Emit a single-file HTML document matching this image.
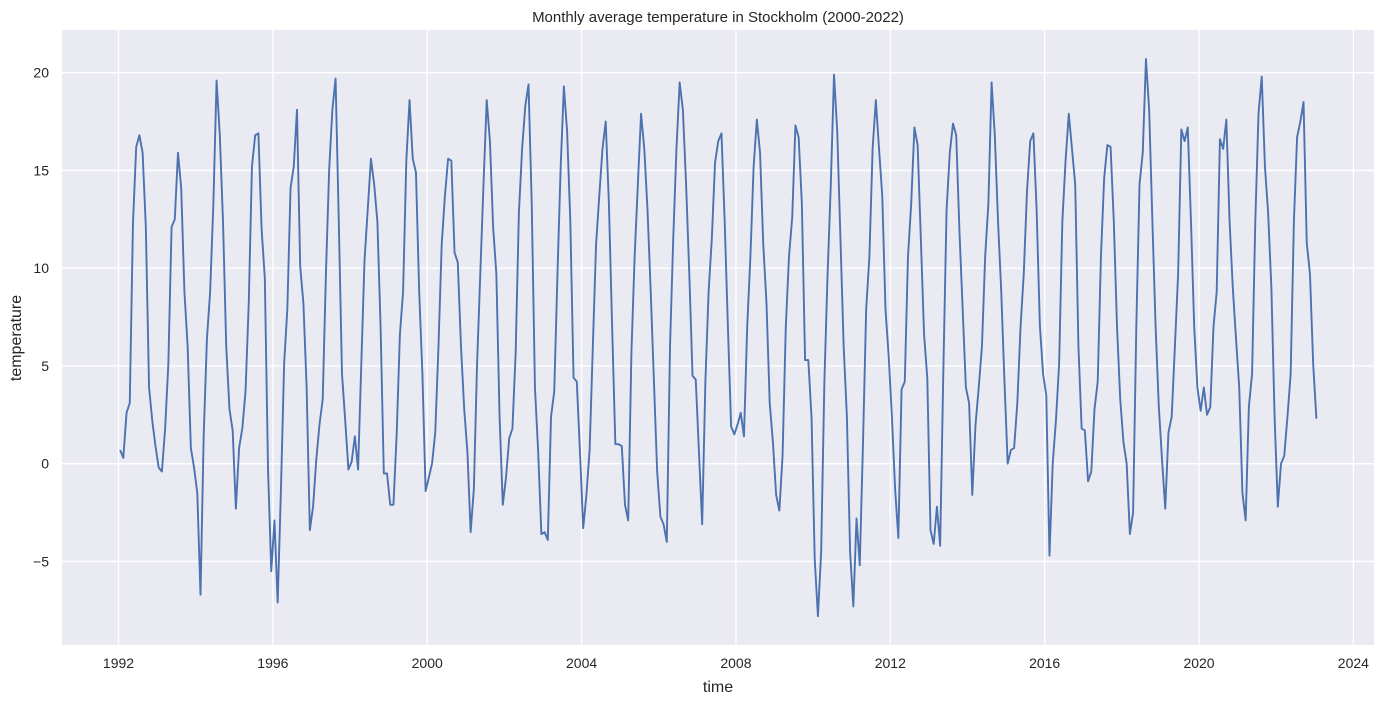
<!DOCTYPE html>
<html><head><meta charset="utf-8"><style>
html,body{margin:0;padding:0;background:#fff;}
svg{display:block;font-family:"Liberation Sans",sans-serif;}
</style></head><body>
<svg id="chart" width="1384" height="704" viewBox="0 0 1384 704" xmlns="http://www.w3.org/2000/svg">
<rect x="62" y="30" width="1312" height="615" fill="#eaeaf2"/>
<g id="grid"></g>
<g id="ticks"></g>
<path id="line" fill="none" stroke="#4c72b0" stroke-width="1.9" stroke-linejoin="round"/>
<text x="718" y="22" text-anchor="middle" font-size="15" fill="#262626">Monthly average temperature in Stockholm (2000-2022)</text>
<text x="718" y="692" text-anchor="middle" font-size="16" fill="#262626">time</text>
<text transform="translate(21,338) rotate(-90)" text-anchor="middle" font-size="16" fill="#262626">temperature</text>
</svg>
<script>
const startYear = 1992;
const temps1992_1999 = [
0.7,0.3,2.6,3.1,12.3,16.2,16.8,15.9,12.1,3.9,2.2,0.9,
-0.2,-0.4,1.8,5.1,12.1,12.5,15.9,14.1,8.8,6.0,0.8,-0.2,
-1.5,-6.7,1.5,6.4,8.8,13.3,19.6,16.8,12.4,6.0,2.8,1.7,
-2.3,0.8,1.8,3.7,8.2,15.2,16.8,16.9,12.0,9.5,-0.3,-5.5,
-2.9,-7.1,-1.4,5.1,7.9,14.1,15.2,18.1,10.1,8.2,3.9,-3.4,
-2.2,0.2,2.0,3.3,9.7,15.0,18.1,19.7,12.4,4.6,2.2,-0.3,
0.1,1.4,-0.3,5.1,10.4,13.0,15.6,14.3,12.4,7.0,-0.5,-0.5,
-2.1,-2.1,1.5,6.6,8.8,15.5,18.6,15.6,14.9,8.8,4.6,-1.4];
const temps2000_2007 = [
-0.7,0.0,1.6,6.0,11.2,13.7,15.6,15.5,10.8,10.3,6.0,2.8,
0.6,-3.5,-1.3,5.1,9.7,14.3,18.6,16.5,12.1,9.7,2.4,-2.1,
-0.7,1.3,1.8,5.7,12.8,16.1,18.3,19.4,13.3,3.9,0.6,-3.6,
-3.5,-3.9,2.4,3.7,9.7,15.2,19.3,17.0,12.4,4.4,4.2,0.6,
-3.3,-1.6,0.7,6.0,11.2,13.7,16.1,17.5,13.3,7.0,1.0,1.0,
0.9,-2.1,-2.9,5.7,10.6,14.3,17.9,16.1,13.0,8.8,4.2,-0.4,
-2.7,-3.1,-4.0,6.0,11.5,16.1,19.5,18.1,14.3,9.7,4.5,4.3,
0.6,-3.1,4.2,8.8,11.5,15.4,16.5,16.9,12.4,7.0,1.9,1.5];
const temps2008_2015 = [
2.0,2.6,1.4,7.0,10.6,15.2,17.6,15.9,11.2,8.2,3.1,1.1,
-1.6,-2.4,0.4,7.0,10.6,12.6,17.3,16.7,13.3,5.3,5.3,2.4,
-4.9,-7.8,-4.5,4.2,9.7,14.3,19.9,17.0,11.5,6.0,2.4,-4.5,
-7.3,-2.8,-5.2,1.0,7.9,10.6,16.1,18.6,16.1,13.7,7.9,5.5,
2.4,-1.3,-3.8,3.8,4.2,10.6,13.3,17.2,16.3,11.5,6.6,4.4,
-3.4,-4.1,-2.2,-4.2,4.8,13.0,15.9,17.4,16.8,11.9,7.9,3.9,
3.1,-1.6,2.0,3.9,6.0,10.6,13.3,19.5,16.8,12.4,8.8,4.2,
0.0,0.7,0.8,3.1,7.0,9.7,13.9,16.5,16.9,13.0,7.1,4.6];
const temps2016_2023 = [
3.5,-4.7,0.0,2.2,5.1,12.4,15.5,17.9,16.1,14.3,6.0,1.8,
1.7,-0.9,-0.4,2.8,4.2,10.6,14.6,16.3,16.2,12.4,7.0,3.3,
1.1,0.0,-3.6,-2.5,7.0,14.3,15.9,20.7,18.1,12.4,7.0,2.9,
0.2,-2.3,1.6,2.4,6.0,9.7,17.1,16.5,17.2,12.4,7.0,3.9,
2.7,3.9,2.5,2.9,7.0,8.8,16.6,16.1,17.6,12.4,9.0,6.4,
3.9,-1.5,-2.9,2.9,4.6,12.4,17.9,19.8,15.2,12.8,9.0,2.4,
-2.2,0.0,0.4,2.4,4.6,12.4,16.7,17.5,18.5,11.3,9.7,5.1,
2.3];
const xTicks = [1992,1996,2000,2004,2008,2012,2016,2020,2024];
const yTicks = [-5,0,5,10,15,20];

const temps = temps1992_1999.concat(temps2000_2007, temps2008_2015, temps2016_2023);
const NS = 'http://www.w3.org/2000/svg';
function xScale(t){ return 118.5 + (t - 1992) * 38.59; }
function yScale(v){ return 463.7 - v * 19.55; }

const grid = document.getElementById('grid');
const ticks = document.getElementById('ticks');
xTicks.forEach(function(t){
  const l = document.createElementNS(NS,'line');
  
  
  l.setAttribute('x1',xScale(t)); l.setAttribute('x2',xScale(t));
  l.setAttribute('y1',30); l.setAttribute('y2',645);
  l.setAttribute('stroke','#fff'); l.setAttribute('stroke-width','1.3');
  grid.appendChild(l);
  const tx = document.createElementNS(NS,'text');
  
  
  tx.setAttribute('x',xScale(t)); tx.setAttribute('y',668);
  tx.setAttribute('text-anchor','middle'); tx.setAttribute('font-size','14');
  tx.setAttribute('fill','#262626');
  tx.textContent = String(t);
  ticks.appendChild(tx);
});
yTicks.forEach(function(v){
  const l = document.createElementNS(NS,'line');
  
  
  l.setAttribute('x1',62); l.setAttribute('x2',1374);
  l.setAttribute('y1',yScale(v)); l.setAttribute('y2',yScale(v));
  l.setAttribute('stroke','#fff'); l.setAttribute('stroke-width','1.3');
  grid.appendChild(l);
  const tx = document.createElementNS(NS,'text');
  
  
  tx.setAttribute('x',49); tx.setAttribute('y',yScale(v)+5);
  tx.setAttribute('text-anchor','end'); tx.setAttribute('font-size','14');
  tx.setAttribute('fill','#262626');
  tx.textContent = v < 0 ? '\u2212' + Math.abs(v) : String(v);
  ticks.appendChild(tx);
});
let d = '';
temps.forEach(function(v,i){
  const t = startYear + (i + 0.5) / 12;
  d += (i ? 'L' : 'M') + xScale(t).toFixed(2) + ',' + yScale(v).toFixed(2);
});
document.getElementById('line').setAttribute('d', d);
</script>
</body></html>
